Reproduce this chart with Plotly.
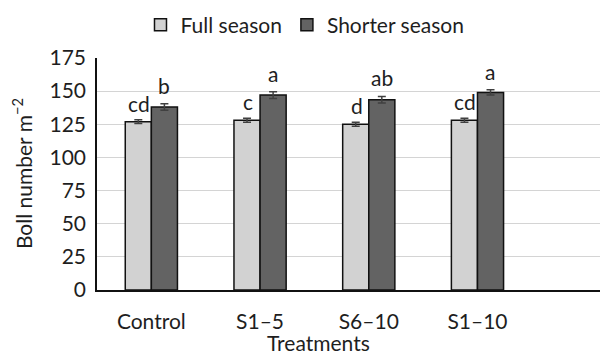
import plotly.graph_objects as go

categories = ["Control", "S1–5", "S6–10", "S1–10"]
full_season = [127, 128, 125, 128]
full_err = [1.5, 1.5, 1.5, 1.5]
shorter_season = [138, 147, 143.5, 149]
shorter_err = [2.5, 2.5, 2.5, 2.0]
full_letters = ["cd", "c", "d", "cd"]
shorter_letters = ["b", "a", "ab", "a"]
y_ticks = [0, 25, 50, 75, 100, 125, 150, 175]

FONT = "Lato"
TXT = "#1e1e1e"
FS = 21

fig = go.Figure()
fig.add_trace(go.Bar(
    name="Full season", x=categories, y=full_season,
    marker=dict(color="#d2d2d2", line=dict(color="#111111", width=1.5)),
    error_y=dict(type="data", array=full_err, color="#404040", thickness=1.5, width=4),
))
fig.add_trace(go.Bar(
    name="Shorter season", x=categories, y=shorter_season,
    marker=dict(color="#636363", line=dict(color="#111111", width=1.5)),
    error_y=dict(type="data", array=shorter_err, color="#404040", thickness=1.5, width=4),
))

annotations = []
for c, v, e, t in zip(categories, full_season, full_err, full_letters):
    annotations.append(dict(x=c, y=v + e, text=t, xref="x", yref="y", showarrow=False,
                            xshift=-12, yshift=2, yanchor="bottom", xanchor="center",
                            font=dict(family=FONT, size=FS, color=TXT)))
for c, v, e, t in zip(categories, shorter_season, shorter_err, shorter_letters):
    annotations.append(dict(x=c, y=v + e, text=t, xref="x", yref="y", showarrow=False,
                            xshift=13, yshift=4, yanchor="bottom", xanchor="center",
                            font=dict(family=FONT, size=FS, color=TXT)))
annotations.append(dict(text="Boll number m<sup>−2</sup>", xref="paper", yref="paper",
                        x=-0.149, y=0.5, textangle=-90, showarrow=False,
                        xanchor="center", yanchor="middle",
                        font=dict(family=FONT, size=FS, color=TXT)))
annotations.append(dict(text="Treatments", xref="paper", yref="paper",
                        x=0.4394, y=-0.228, showarrow=False,
                        xanchor="center", yanchor="middle",
                        font=dict(family=FONT, size=FS, color=TXT)))

fig.update_layout(
    width=600, height=356,
    margin=dict(l=97, r=0, t=58, b=66),
    paper_bgcolor="white", plot_bgcolor="white",
    barmode="group", bargap=0.52, bargroupgap=0,
    font=dict(family=FONT, size=FS, color=TXT),
    showlegend=True,
    legend=dict(orientation="h", x=0.4135, xanchor="center", y=1.142, yanchor="middle",
                font=dict(family=FONT, size=FS, color=TXT), traceorder="normal",
                bgcolor="rgba(0,0,0,0)"),
    annotations=annotations,
    xaxis=dict(range=[-0.5, 4.127], showline=True, linecolor="#111111", linewidth=1.5,
               showgrid=False, ticks="", ticklabelstandoff=12, zeroline=False),
    yaxis=dict(range=[0, 175], tickvals=y_ticks, showline=True, linecolor="#111111",
               linewidth=1.5, showgrid=True, gridcolor="#d4d4d4", gridwidth=1,
               ticks="", ticklabelstandoff=5, zeroline=False),
)

fig.write_html("out.html")
